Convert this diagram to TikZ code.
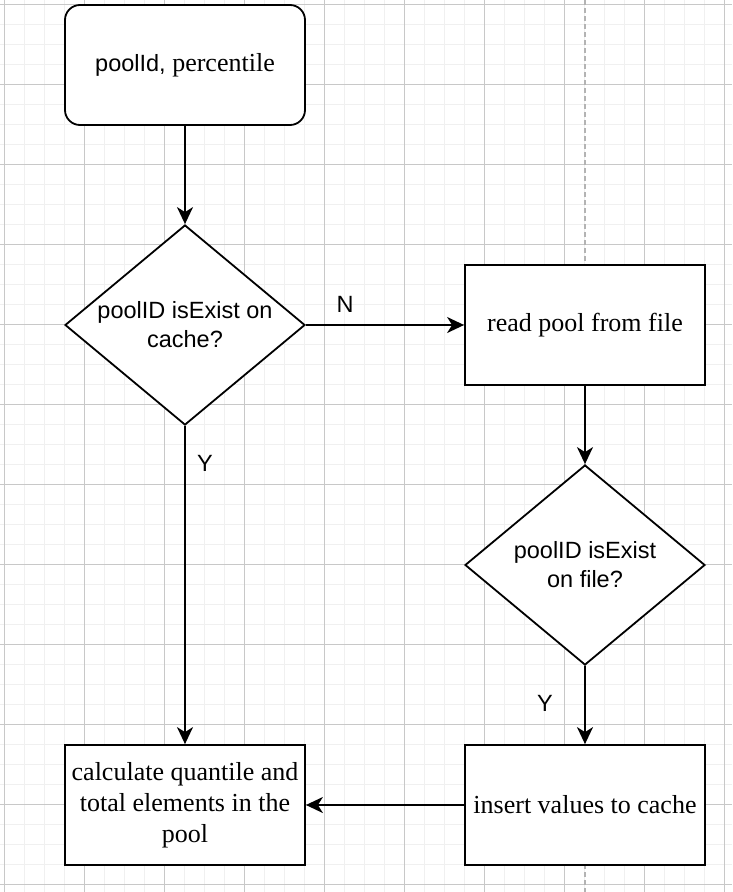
\documentclass[tikz,border=0pt]{standalone}
\usepackage{fontspec}
\setmainfont{Liberation Serif}
\setsansfont{Liberation Sans}
\usetikzlibrary{shapes.geometric,arrows.meta}
\definecolor{gridminor}{HTML}{F0F0F0}
\definecolor{gridmajor}{HTML}{C8C8C8}
\definecolor{pageline}{HTML}{B3B3B3}
\tikzset{
  box/.style={draw, fill=white, line width=1.8pt, minimum width=240pt, minimum height=120pt, align=center, font=\fontsize{26}{31}\selectfont},
  decision/.style={draw, fill=white, diamond, line width=1.8pt, minimum width=240pt, minimum height=200pt, inner sep=0pt},
  sanstext/.style={align=center, font=\sffamily\fontsize{23.5}{29}\selectfont},
  flow/.style={line width=1.8pt, -{Stealth[length=17pt,width=16pt,inset=5pt]}},
}
\begin{document}
\begin{tikzpicture}[x=1pt,y=-1pt]
\useasboundingbox[fill=white] (0,0) rectangle (732,892);
\foreach \i in {0,...,36} \draw[gridminor, line width=1pt] ({4.7+20*\i},0) -- ({4.7+20*\i},892);
\foreach \j in {0,...,44} \draw[gridminor, line width=1pt] (0,{4.7+20*\j}) -- (732,{4.7+20*\j});
\foreach \i in {0,...,9} \draw[gridmajor, line width=1pt] ({4.7+80*\i},0) -- ({4.7+80*\i},892);
\foreach \j in {0,...,11} \draw[gridmajor, line width=1pt] (0,{4.7+80*\j}) -- (732,{4.7+80*\j});
\draw[pageline, line width=1.5pt, dash pattern=on 5pt off 3pt] (585,0) -- (585,892);

\node[box, rounded corners=15pt] (start) at (185,65) {{\sffamily\fontsize{23.5}{29}\selectfont poolId,} percentile};
\node[decision] (d1) at (185,325) {};
\node[sanstext] (d1text) at (185,325) {poolID isExist on\\cache?};
\node[box] (readpool) at (585,325) {read pool from file};
\node[decision] (d2) at (585,565) {};
\node[sanstext] (d2text) at (585,565) {poolID isExist\\on file?};
\node[box] (calc) at (185,805) {calculate quantile and\\total elements in the\\pool};
\node[box] (insert) at (585,805) {insert values to cache};

\node[sanstext] (lblN) at (345,304) {N};
\node[sanstext] (lblY1) at (205,463) {Y};
\node[sanstext] (lblY2) at (545,703) {Y};

\draw[flow] (start) -- (d1);
\draw[flow] (d1.east) -- (readpool.west);
\draw[flow] (d1.south) -- (calc.north);
\draw[flow] (readpool) -- (d2);
\draw[flow] (d2.south) -- (insert.north);
\draw[flow] (insert.west) -- (calc.east);
\end{tikzpicture}
\end{document}
